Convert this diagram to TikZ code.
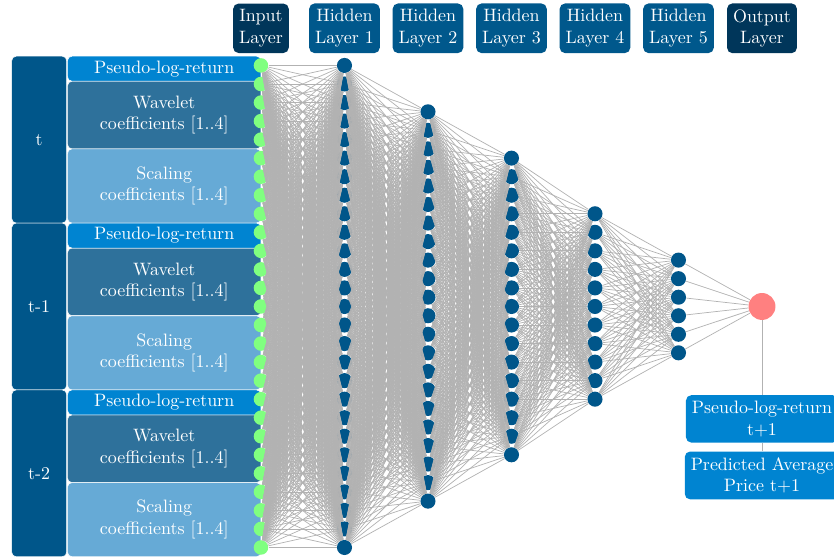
\documentclass[tikz,border=0pt]{standalone}
\usetikzlibrary{positioning}
\definecolor{headdark}{RGB}{0,54,90}
\definecolor{headblue}{RGB}{0,88,140}
\definecolor{nodeblue}{RGB}{0,86,138}
\definecolor{pseudoblue}{RGB}{0,132,209}
\definecolor{waveblue}{RGB}{46,113,155}
\definecolor{scaleblue}{RGB}{102,170,214}

\begin{document}
\begin{tikzpicture}[-, input node/.style={circle, fill=green!50, inner sep=0pt, minimum size=8.1pt},
  hidden node/.style={circle, fill=nodeblue, inner sep=0pt, minimum size=8.4pt},
  output node/.style={circle, fill=red!50, inner sep=0pt, minimum size=15pt},
  head/.style={rounded corners=3pt, text=white, align=center},
  box/.style={rounded corners=2.5pt, draw=white, line width=0.3pt, text=white, align=center, inner sep=0pt},
  link/.style={gray!60}]
\useasboundingbox (-5.110,-4.925) rectangle (11.22,6.001);
\clip (-5.110,-4.925) rectangle (11.22,6.001);

% layer titles
\node[head, fill=headdark] (h0) at (0,5.447) {Input\\Layer};
\foreach \l in {1,...,5}
  \node[head, fill=headblue] (h\l) at (\l*1.635,5.447) {Hidden\\Layer \l};
\node[head, fill=headdark] (h6) at (6*1.635,5.447) {Output\\Layer};

% input features per time step
\foreach \lab [count=\g from 0] in {t,t-1,t-2} {
  \node[box, fill=nodeblue, minimum width=1.077cm, minimum height=3.267cm] (g\g) at (-4.3425,{(9-9*\g)*0.363}) {\lab};
  \node[box, fill=waveblue, minimum width=3.789cm, minimum height=1.325cm] (w\g) at (-1.8945,{(10.325-9*\g)*0.363}) {Wavelet\\coefficients [1..4]};
  \node[box, fill=scaleblue, minimum width=3.789cm, minimum height=1.452cm] (s\g) at (-1.8945,{(6.5-9*\g)*0.363}) {Scaling\\coefficients [1..4]};
  \node[box, fill=pseudoblue, minimum width=3.789cm, minimum height=0.49cm] (p\g) at (-1.8945,{(12.825-9*\g)*0.363}) {Pseudo-log-return};
}

% neurons
\foreach \i in {1,...,27}
  \node[input node] (n0-\i) at (0,{(14-\i)*0.363}) {};
\foreach \n [count=\l] in {27,22,17,11,6}
  \foreach \i in {1,...,\n}
    \node[hidden node] (n\l-\i) at (\l*1.635,{((\n+1)/2-\i)*0.363}) {};
\node[output node] (n6-1) at (6*1.635,0) {};

% weights
\foreach \a/\b [count=\l from 0] in {27/27,27/22,22/17,17/11,11/6,6/1} {
  \pgfmathtruncatemacro\m{\l+1}
  \foreach \i in {1,...,\a}
    \foreach \j in {1,...,\b}
      \draw[link] (n\l-\i) -- (n\m-\j);
}

% prediction
\node[head, fill=pseudoblue, below=1.459cm of n6-1] (r1) {Pseudo-log-return\\t+1};
\node[head, fill=pseudoblue, below=0.16cm of r1] (r2) {Predicted Average\\Price t+1};
\draw[link] (n6-1) -- (r1) -- (r2);
\end{tikzpicture}
\end{document}
